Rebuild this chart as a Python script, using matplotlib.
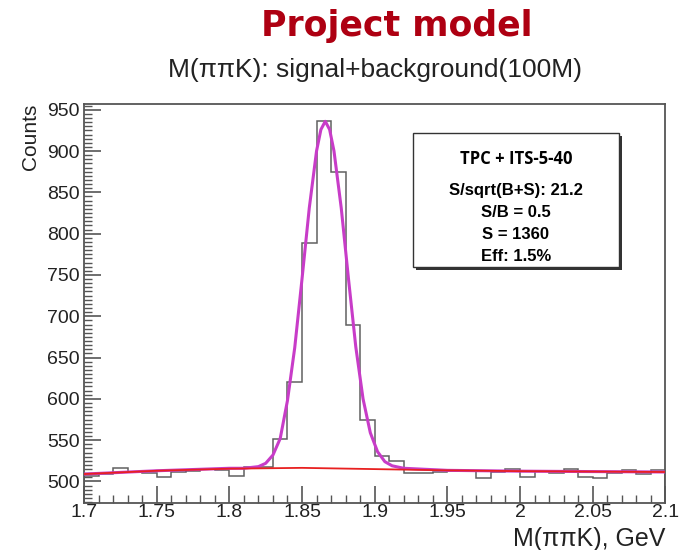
import numpy as np
import matplotlib.pyplot as plt
from matplotlib.ticker import MultipleLocator
from matplotlib.patches import Rectangle

plt.rcParams['font.family'] = ['Liberation Sans', 'DejaVu Sans']

# histogram: 40 bins of 0.01 GeV from 1.70 to 2.10
x_lo, x_hi, n_bins = 1.70, 2.10, 40
counts = [507, 509, 516, 512, 510, 506, 512, 513, 515, 514,
          507, 517, 518, 552, 620, 789, 936, 875, 689, 575,
          531, 525, 510, 510, 512, 513, 513, 504, 511, 515,
          506, 513, 510, 515, 506, 504, 510, 514, 509, 514]

# signal+background fit (magenta)
fit_x = [1.70, 1.75, 1.80, 1.81, 1.82, 1.825, 1.83, 1.835, 1.84, 1.845,
         1.85, 1.855, 1.86, 1.863, 1.866, 1.869, 1.872, 1.877, 1.882, 1.887,
         1.892, 1.897, 1.902, 1.907, 1.912, 1.92, 1.95, 2.00, 2.05, 2.10]
fit_y = [509, 513, 516, 516, 518, 522, 532, 552, 598, 662,
         745, 831, 900, 926, 936, 926, 900, 831, 745, 663,
         600, 559, 536, 524, 519, 516, 513.5, 512.5, 512, 511.5]

# background fit (red)
bg_x = [1.70, 1.75, 1.80, 1.85, 1.90, 1.95, 2.00, 2.05, 2.10]
bg_y = [509, 513, 515.5, 516.5, 515, 513.5, 512.5, 512, 511.5]

box_lines = ['S/sqrt(B+S): 21.2', 'S/B = 0.5', 'S = 1360', 'Eff: 1.5%']

# %%
fig = plt.figure(figsize=(6.8, 5.5), dpi=100)
ax = fig.add_axes([0.1235, 0.0855, 0.855, 0.7255])

edges = np.linspace(x_lo, x_hi, n_bins + 1)
ax.stairs(counts, edges, color='#606060', lw=1.1, zorder=2)
ax.plot(fit_x, fit_y, color='#c83cc8', lw=2.2, zorder=3)
ax.plot(bg_x, bg_y, color='#e82020', lw=1.3, zorder=4)

ax.set_xlim(x_lo, x_hi)
ax.set_ylim(474, 957)
ax.xaxis.set_minor_locator(MultipleLocator(0.01))
ax.yaxis.set_major_locator(MultipleLocator(50))
ax.yaxis.set_minor_locator(MultipleLocator(5))
ax.set_xticks(np.arange(1.7, 2.101, 0.05))
ax.set_xticklabels(['1.7', '1.75', '1.8', '1.85', '1.9', '1.95', '2', '2.05', '2.1'])
ax.tick_params(which='both', direction='in', color='#555555', labelsize=14,
               labelcolor='#222222', top=False, right=False)
ax.tick_params(which='major', length=12, width=1.2)
ax.tick_params(which='minor', length=6, width=1.0)
ax.tick_params(axis='x', pad=1)
ax.tick_params(axis='y', pad=3)
for s in ax.spines.values():
    s.set_color('#555555')
    s.set_linewidth(1.3)

ax.set_ylabel('Counts', fontsize=15, loc='top', labelpad=5, color='#222222')
ax.set_xlabel('M(ππK), GeV', fontsize=18, loc='right', labelpad=4,
              color='#222222')

# titles
fig.text(0.584, 0.953, 'Project model', ha='center', va='center',
         fontsize=25, fontweight='bold', color='#ae0012', family='DejaVu Sans')
fig.text(0.552, 0.873, 'M(ππK): signal+background(100M)', ha='center',
         va='center', fontsize=19, color='#222222')

# stats box with drop shadow
bx0, by0, bw, bh = 413 / 680, 1 - 267 / 550, 206 / 680, 134 / 550
fig.patches.append(Rectangle((bx0 + 0.005, by0 - 0.006), bw, bh,
                             transform=fig.transFigure, facecolor='#333333',
                             edgecolor='none', zorder=5))
fig.patches.append(Rectangle((bx0, by0), bw, bh, transform=fig.transFigure,
                             facecolor='white', edgecolor='#333333', lw=1.0,
                             zorder=6))
cx = bx0 + bw / 2
fig.text(cx, 1 - 159 / 550, 'TPC + ITS-5-40', ha='center', va='center',
         fontsize=12, fontweight='bold', family='Open Sans', zorder=7)
for i, t in enumerate(box_lines):
    fig.text(cx, 1 - (190 + 22.3 * i) / 550, t, ha='center', va='center',
             fontsize=12, fontweight='bold', zorder=7)

fig.savefig('out.png', dpi=100)
